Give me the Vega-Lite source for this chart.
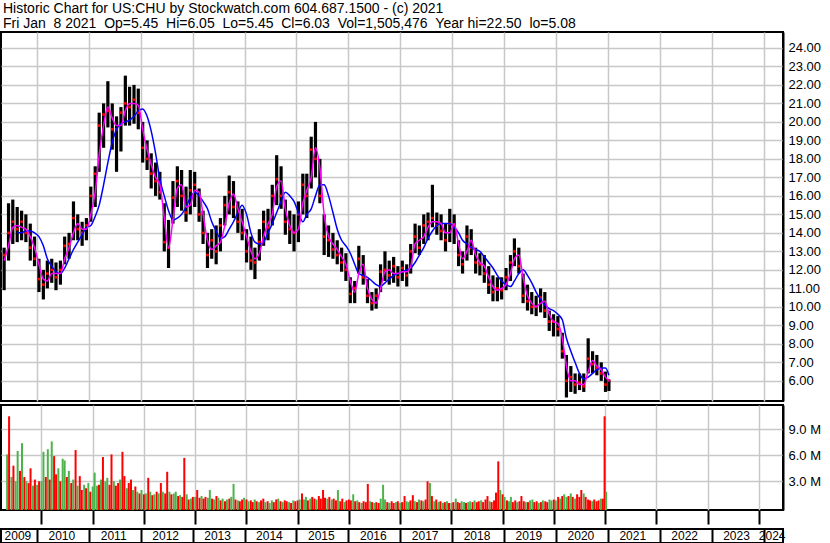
{
"$schema":"https://vega.github.io/schema/vega-lite/v6.json",
"padding":{"top":2,"left":0,"right":0,"bottom":0},
"background":"white",
"spacing":2,
"title":{"text":["Historic Chart for US:CHU by Stockwatch.com 604.687.1500 - (c) 2021","Fri Jan\u00a0\u00a08 2021\u00a0\u00a0Op=5.45\u00a0\u00a0Hi=6.05\u00a0\u00a0Lo=5.45\u00a0\u00a0Cl=6.03\u00a0\u00a0Vol=1,505,476\u00a0\u00a0Year hi=22.50\u00a0\u00a0lo=5.08"],"anchor":"start","frame":"group","font":"Liberation Sans","fontSize":14,"fontWeight":"normal","color":"black","lineHeight":15,"offset":0,"dx":2},
"config":{"font":"Liberation Sans","view":{"stroke":"black","strokeWidth":2},"axis":{"labelFont":"Liberation Sans","labelColor":"black","title":null},"axisY":{"labelOverlap":false,"labelSeparation":0}},
"datasets":{
"px":[
{"d":"2009-05-15","h":13.2,"l":10.9,"c":12.8,"m":12.5},
{"d":"2009-06-15","h":15.6,"l":12.5,"c":14.0,"m":13.3},
{"d":"2009-07-15","h":15.8,"l":13.4,"c":14.6,"m":14.3},
{"d":"2009-08-15","h":15.4,"l":13.5,"c":14.2,"m":14.4,"b":14.0},
{"d":"2009-09-15","h":15.2,"l":13.6,"c":14.6,"m":14.3,"b":14.0},
{"d":"2009-10-15","h":15.0,"l":13.5,"c":14.0,"m":14.2,"b":14.1},
{"d":"2009-11-15","h":14.5,"l":12.5,"c":13.2,"m":13.8,"b":14.1},
{"d":"2009-12-15","h":13.8,"l":12.2,"c":12.6,"m":13.2,"b":14.0},
{"d":"2010-01-15","h":12.6,"l":10.8,"c":11.5,"m":12.3,"b":13.8},
{"d":"2010-02-15","h":12.0,"l":10.4,"c":11.2,"m":11.5,"b":13.3},
{"d":"2010-03-15","h":12.5,"l":11.0,"c":11.8,"m":11.4,"b":12.6},
{"d":"2010-04-15","h":12.6,"l":11.3,"c":12.0,"m":11.8,"b":12.2},
{"d":"2010-05-15","h":12.4,"l":10.9,"c":11.6,"m":11.8,"b":11.9},
{"d":"2010-06-15","h":12.5,"l":11.2,"c":12.0,"m":11.8,"b":11.8},
{"d":"2010-07-15","h":13.8,"l":12.3,"c":13.3,"m":12.6,"b":12.1},
{"d":"2010-08-15","h":14.0,"l":12.6,"c":13.4,"m":13.2,"b":12.6},
{"d":"2010-09-15","h":15.7,"l":13.6,"c":14.8,"m":14.0,"b":13.1},
{"d":"2010-10-15","h":15.0,"l":13.6,"c":14.2,"m":14.5,"b":13.5},
{"d":"2010-11-15","h":14.6,"l":13.3,"c":14.0,"m":14.2,"b":13.9},
{"d":"2010-12-15","h":14.8,"l":13.6,"c":14.4,"m":14.2,"b":14.3},
{"d":"2011-01-15","h":16.5,"l":14.6,"c":16.0,"m":15.0,"b":14.4},
{"d":"2011-02-15","h":17.6,"l":15.4,"c":17.2,"m":16.2,"b":14.9},
{"d":"2011-03-15","h":20.5,"l":17.3,"c":19.8,"m":18.2,"b":15.5},
{"d":"2011-04-15","h":21.0,"l":18.6,"c":20.4,"m":19.8,"b":16.6},
{"d":"2011-05-15","h":22.2,"l":19.7,"c":20.6,"m":20.8,"b":17.8},
{"d":"2011-06-15","h":21.0,"l":18.5,"c":19.6,"m":20.2,"b":18.9},
{"d":"2011-07-15","h":20.3,"l":17.3,"c":19.6,"m":19.8,"b":19.6},
{"d":"2011-08-15","h":20.8,"l":18.4,"c":20.5,"m":19.8,"b":19.9},
{"d":"2011-09-15","h":22.5,"l":19.8,"c":21.0,"m":20.6,"b":20.0},
{"d":"2011-10-15","h":21.9,"l":19.8,"c":20.8,"m":21.0,"b":20.1},
{"d":"2011-11-15","h":22.0,"l":19.9,"c":21.2,"m":21.0,"b":20.3},
{"d":"2011-12-15","h":21.8,"l":19.6,"c":20.5,"m":20.9,"b":20.6},
{"d":"2012-01-15","h":20.0,"l":17.8,"c":18.6,"m":19.6,"b":20.7},
{"d":"2012-02-15","h":19.0,"l":17.4,"c":18.0,"m":18.5,"b":20.3},
{"d":"2012-03-15","h":18.3,"l":16.4,"c":17.2,"m":17.7,"b":19.5},
{"d":"2012-04-15","h":17.8,"l":16.0,"c":16.8,"m":17.0,"b":18.3},
{"d":"2012-05-15","h":17.3,"l":15.8,"c":16.2,"m":16.6,"b":16.9},
{"d":"2012-06-15","h":15.6,"l":13.0,"c":13.5,"m":14.8,"b":16.0},
{"d":"2012-07-15","h":14.7,"l":12.1,"c":13.2,"m":13.2,"b":15.2},
{"d":"2012-08-15","h":16.8,"l":14.5,"c":15.9,"m":14.7,"b":14.7},
{"d":"2012-09-15","h":17.6,"l":15.4,"c":16.8,"m":16.4,"b":14.8},
{"d":"2012-10-15","h":17.4,"l":15.2,"c":16.0,"m":16.6,"b":15.0},
{"d":"2012-11-15","h":16.5,"l":14.6,"c":15.1,"m":15.4,"b":15.4},
{"d":"2012-12-15","h":17.4,"l":15.0,"c":16.3,"m":15.5,"b":15.9},
{"d":"2013-01-15","h":17.3,"l":15.4,"c":16.6,"m":16.3,"b":16.2},
{"d":"2013-02-15","h":16.4,"l":14.6,"c":15.0,"m":16.2,"b":16.0},
{"d":"2013-03-15","h":15.2,"l":13.4,"c":14.0,"m":15.0,"b":15.7},
{"d":"2013-04-15","h":14.0,"l":12.1,"c":12.8,"m":13.6,"b":15.3},
{"d":"2013-05-15","h":14.2,"l":12.6,"c":13.6,"m":13.1,"b":14.6},
{"d":"2013-06-15","h":14.4,"l":12.3,"c":13.0,"m":13.3,"b":14.1},
{"d":"2013-07-15","h":14.8,"l":13.0,"c":14.4,"m":13.5,"b":13.7},
{"d":"2013-08-15","h":16.0,"l":14.4,"c":15.5,"m":14.4,"b":13.8},
{"d":"2013-09-15","h":17.1,"l":15.0,"c":16.2,"m":15.6,"b":14.2},
{"d":"2013-10-15","h":16.8,"l":14.8,"c":15.4,"m":16.1,"b":14.6},
{"d":"2013-11-15","h":15.7,"l":14.0,"c":14.6,"m":15.3,"b":15.1},
{"d":"2013-12-15","h":15.3,"l":13.6,"c":14.0,"m":14.6,"b":15.5},
{"d":"2014-01-15","h":14.2,"l":12.4,"c":13.0,"m":13.8,"b":15.0},
{"d":"2014-02-15","h":13.8,"l":12.0,"c":12.5,"m":13.0,"b":14.0},
{"d":"2014-03-15","h":13.2,"l":11.5,"c":12.4,"m":12.6,"b":13.5},
{"d":"2014-04-15","h":14.2,"l":12.5,"c":13.5,"m":12.9,"b":13.4},
{"d":"2014-05-15","h":15.2,"l":13.3,"c":14.6,"m":13.8,"b":13.5},
{"d":"2014-06-15","h":15.3,"l":13.6,"c":14.3,"m":14.5,"b":14.0},
{"d":"2014-07-15","h":16.6,"l":14.4,"c":16.0,"m":15.0,"b":14.5},
{"d":"2014-08-15","h":18.2,"l":15.5,"c":16.9,"m":16.5,"b":15.1},
{"d":"2014-09-15","h":17.6,"l":15.3,"c":16.0,"m":16.8,"b":15.7},
{"d":"2014-10-15","h":15.8,"l":13.9,"c":14.6,"m":15.3,"b":16.2},
{"d":"2014-11-15","h":15.2,"l":13.4,"c":14.2,"m":14.4,"b":16.0},
{"d":"2014-12-15","h":15.0,"l":13.0,"c":14.0,"m":14.0,"b":15.7},
{"d":"2015-01-15","h":15.7,"l":13.5,"c":15.0,"m":14.2,"b":15.1},
{"d":"2015-02-15","h":17.2,"l":15.0,"c":16.6,"m":15.6,"b":14.6},
{"d":"2015-03-15","h":17.2,"l":14.8,"c":16.0,"m":16.3,"b":15.0},
{"d":"2015-04-15","h":19.2,"l":16.4,"c":18.5,"m":17.0,"b":15.3},
{"d":"2015-05-15","h":20.0,"l":17.0,"c":18.0,"m":18.6,"b":16.0},
{"d":"2015-06-15","h":18.0,"l":15.6,"c":16.0,"m":17.5,"b":16.6},
{"d":"2015-07-15","h":15.0,"l":12.8,"c":13.8,"m":15.0,"b":16.6},
{"d":"2015-08-15","h":14.4,"l":12.7,"c":13.6,"m":13.8,"b":16.0},
{"d":"2015-09-15","h":14.0,"l":12.6,"c":13.1,"m":13.4,"b":15.1},
{"d":"2015-10-15","h":13.6,"l":12.3,"c":12.8,"m":13.1,"b":14.2},
{"d":"2015-11-15","h":13.2,"l":11.9,"c":12.4,"m":12.7,"b":13.6},
{"d":"2015-12-15","h":12.9,"l":11.4,"c":12.0,"m":12.3,"b":13.3},
{"d":"2016-01-15","h":11.6,"l":10.2,"c":10.7,"m":11.4,"b":12.9},
{"d":"2016-02-15","h":11.4,"l":10.2,"c":11.0,"m":10.8,"b":12.3},
{"d":"2016-03-15","h":13.3,"l":11.8,"c":12.6,"m":11.8,"b":11.8},
{"d":"2016-04-15","h":12.8,"l":11.2,"c":11.6,"m":12.3,"b":11.7},
{"d":"2016-05-15","h":11.5,"l":10.2,"c":10.6,"m":11.0,"b":11.6},
{"d":"2016-06-15","h":10.8,"l":9.8,"c":10.2,"m":10.4,"b":11.4},
{"d":"2016-07-15","h":11.0,"l":9.9,"c":10.6,"m":10.2,"b":11.2},
{"d":"2016-08-15","h":12.3,"l":10.8,"c":11.9,"m":11.0,"b":11.1},
{"d":"2016-09-15","h":13.0,"l":11.4,"c":12.0,"m":11.9,"b":11.3},
{"d":"2016-10-15","h":12.5,"l":11.2,"c":11.7,"m":12.0,"b":11.5},
{"d":"2016-11-15","h":12.7,"l":11.3,"c":12.2,"m":11.8,"b":11.7},
{"d":"2016-12-15","h":12.2,"l":11.1,"c":11.6,"m":11.8,"b":11.8},
{"d":"2017-01-15","h":12.5,"l":11.4,"c":12.1,"m":11.9,"b":11.9},
{"d":"2017-02-15","h":12.3,"l":11.1,"c":11.7,"m":11.9,"b":12.0},
{"d":"2017-03-15","h":13.4,"l":11.8,"c":13.0,"m":12.2,"b":12.1},
{"d":"2017-04-15","h":14.5,"l":12.9,"c":13.8,"m":13.4,"b":12.4},
{"d":"2017-05-15","h":14.4,"l":12.8,"c":13.2,"m":13.6,"b":12.8},
{"d":"2017-06-15","h":15.0,"l":13.4,"c":14.4,"m":13.8,"b":13.2},
{"d":"2017-07-15","h":15.1,"l":13.6,"c":14.6,"m":14.3,"b":13.7},
{"d":"2017-08-15","h":16.6,"l":14.3,"c":14.8,"m":14.6,"b":14.1},
{"d":"2017-09-15","h":15.1,"l":13.9,"c":14.4,"m":14.6,"b":14.4},
{"d":"2017-10-15","h":15.0,"l":13.6,"c":14.1,"m":14.5,"b":14.5},
{"d":"2017-11-15","h":14.5,"l":13.0,"c":13.6,"m":14.0,"b":14.5},
{"d":"2017-12-15","h":15.3,"l":13.5,"c":14.5,"m":14.0,"b":14.5},
{"d":"2018-01-15","h":15.0,"l":13.4,"c":14.4,"m":14.5,"b":14.3},
{"d":"2018-02-15","h":13.6,"l":12.2,"c":12.8,"m":13.4,"b":14.0},
{"d":"2018-03-15","h":13.0,"l":11.8,"c":12.3,"m":12.6,"b":13.6},
{"d":"2018-04-15","h":14.4,"l":12.5,"c":13.8,"m":13.0,"b":13.4},
{"d":"2018-05-15","h":14.2,"l":12.8,"c":13.2,"m":13.6,"b":13.2},
{"d":"2018-06-15","h":13.2,"l":11.8,"c":12.4,"m":12.8,"b":13.1},
{"d":"2018-07-15","h":12.9,"l":11.7,"c":12.3,"m":12.4,"b":13.0},
{"d":"2018-08-15","h":12.8,"l":11.3,"c":11.8,"m":12.2,"b":12.7},
{"d":"2018-09-15","h":12.2,"l":10.7,"c":11.2,"m":11.6,"b":12.4},
{"d":"2018-10-15","h":11.7,"l":10.3,"c":10.8,"m":11.1,"b":12.1},
{"d":"2018-11-15","h":11.6,"l":10.3,"c":11.0,"m":10.9,"b":11.7},
{"d":"2018-12-15","h":11.6,"l":10.4,"c":10.9,"m":11.0,"b":11.4},
{"d":"2019-01-15","h":12.1,"l":10.9,"c":11.6,"m":11.2,"b":11.2},
{"d":"2019-02-15","h":12.8,"l":11.4,"c":12.4,"m":11.8,"b":11.1},
{"d":"2019-03-15","h":13.7,"l":12.2,"c":13.0,"m":12.6,"b":11.4},
{"d":"2019-04-15","h":13.2,"l":11.8,"c":12.2,"m":12.8,"b":11.8},
{"d":"2019-05-15","h":11.8,"l":10.2,"c":10.6,"m":11.6,"b":12.0},
{"d":"2019-06-15","h":11.2,"l":9.8,"c":10.3,"m":10.6,"b":11.7},
{"d":"2019-07-15","h":10.8,"l":9.6,"c":10.0,"m":10.2,"b":11.3},
{"d":"2019-08-15","h":10.6,"l":9.5,"c":10.0,"m":10.0,"b":10.8},
{"d":"2019-09-15","h":11.0,"l":9.7,"c":10.5,"m":10.2,"b":10.4},
{"d":"2019-10-15","h":10.8,"l":9.4,"c":9.8,"m":10.3,"b":10.1},
{"d":"2019-11-15","h":9.8,"l":8.7,"c":9.2,"m":9.6,"b":9.9},
{"d":"2019-12-15","h":9.6,"l":8.4,"c":9.2,"m":9.2,"b":9.8},
{"d":"2020-01-15","h":9.5,"l":8.4,"c":8.8,"m":9.1,"b":9.6},
{"d":"2020-02-15","h":8.6,"l":7.2,"c":7.6,"m":8.3,"b":9.3},
{"d":"2020-03-15","h":7.4,"l":5.1,"c":6.0,"m":6.8,"b":8.3},
{"d":"2020-04-15","h":6.8,"l":5.4,"c":6.2,"m":6.0,"b":7.6},
{"d":"2020-05-15","h":6.4,"l":5.3,"c":5.8,"m":6.0,"b":7.0},
{"d":"2020-06-15","h":6.4,"l":5.5,"c":5.9,"m":5.8,"b":6.4},
{"d":"2020-07-15","h":6.4,"l":5.4,"c":5.7,"m":5.8,"b":6.1},
{"d":"2020-08-15","h":8.3,"l":6.4,"c":7.2,"m":6.5,"b":6.2},
{"d":"2020-09-15","h":7.6,"l":6.4,"c":6.9,"m":7.1,"b":6.4},
{"d":"2020-10-15","h":7.4,"l":6.3,"c":6.7,"m":6.8,"b":6.6},
{"d":"2020-11-15","h":7.0,"l":6.0,"c":6.4,"m":6.6,"b":6.7},
{"d":"2020-12-15","h":6.5,"l":5.4,"c":5.8,"m":6.2,"b":6.7},
{"d":"2021-01-08","h":6.05,"l":5.45,"c":6.03,"m":6.0,"b":6.3}
],
"vol":[
{"d":"2009-05-01","v":6.1,"t":"u"},{"d":"2009-05-15","v":10.5,"t":"d"},{"d":"2009-06-01","v":3.5,"t":"u"},{"d":"2009-06-15","v":4.8,"t":"d"},
{"d":"2009-07-01","v":3.0,"t":"u"},{"d":"2009-07-15","v":6.5,"t":"u"},{"d":"2009-08-01","v":4.2,"t":"d"},{"d":"2009-08-15","v":7.4,"t":"u"},
{"d":"2009-09-01","v":3.5,"t":"d"},{"d":"2009-09-15","v":3.0,"t":"u"},{"d":"2009-10-01","v":2.8,"t":"d"},{"d":"2009-10-15","v":4.5,"t":"d"},
{"d":"2009-11-01","v":2.5,"t":"u"},{"d":"2009-11-15","v":3.2,"t":"d"},{"d":"2009-12-01","v":2.6,"t":"u"},{"d":"2009-12-15","v":3.0,"t":"d"},
{"d":"2010-01-01","v":3.0,"t":"u"},{"d":"2010-01-15","v":6.4,"t":"u"},{"d":"2010-02-01","v":3.5,"t":"d"},{"d":"2010-02-15","v":6.7,"t":"u"},
{"d":"2010-03-01","v":3.2,"t":"d"},{"d":"2010-03-15","v":7.6,"t":"u"},{"d":"2010-04-01","v":5.9,"t":"d"},{"d":"2010-04-15","v":3.8,"t":"d"},
{"d":"2010-05-01","v":4.5,"t":"u"},{"d":"2010-05-15","v":3.0,"t":"d"},{"d":"2010-06-01","v":5.6,"t":"u"},{"d":"2010-06-15","v":5.4,"t":"u"},
{"d":"2010-07-01","v":3.5,"t":"d"},{"d":"2010-07-15","v":4.2,"t":"u"},{"d":"2010-08-01","v":2.8,"t":"d"},{"d":"2010-08-15","v":3.2,"t":"u"},
{"d":"2010-09-01","v":6.6,"t":"d"},{"d":"2010-09-15","v":2.5,"t":"u"},{"d":"2010-10-01","v":3.6,"t":"d"},{"d":"2010-10-15","v":2.0,"t":"d"},
{"d":"2010-11-01","v":2.6,"t":"u"},{"d":"2010-11-15","v":2.2,"t":"d"},{"d":"2010-12-01","v":2.8,"t":"u"},{"d":"2010-12-15","v":1.8,"t":"d"},
{"d":"2011-01-01","v":2.4,"t":"u"},{"d":"2011-01-15","v":4.0,"t":"u"},{"d":"2011-02-01","v":2.5,"t":"u"},{"d":"2011-02-15","v":2.6,"t":"d"},
{"d":"2011-03-01","v":3.2,"t":"u"},{"d":"2011-03-15","v":5.8,"t":"d"},{"d":"2011-04-01","v":3.0,"t":"u"},{"d":"2011-04-15","v":3.4,"t":"u"},
{"d":"2011-05-01","v":2.6,"t":"d"},{"d":"2011-05-15","v":6.1,"t":"d"},{"d":"2011-06-01","v":3.0,"t":"u"},{"d":"2011-06-15","v":2.5,"t":"d"},
{"d":"2011-07-01","v":2.8,"t":"d"},{"d":"2011-07-15","v":3.2,"t":"u"},{"d":"2011-08-01","v":6.4,"t":"d"},{"d":"2011-08-15","v":3.6,"t":"d"},
{"d":"2011-09-01","v":2.2,"t":"u"},{"d":"2011-09-15","v":2.8,"t":"d"},{"d":"2011-10-01","v":3.2,"t":"d"},{"d":"2011-10-15","v":2.0,"t":"u"},
{"d":"2011-11-01","v":2.4,"t":"d"},{"d":"2011-11-15","v":1.8,"t":"u"},{"d":"2011-12-01","v":1.6,"t":"d"},{"d":"2011-12-15","v":2.0,"t":"u"},
{"d":"2012-01-01","v":1.5,"t":"d"},{"d":"2012-01-15","v":1.6,"t":"u"},{"d":"2012-02-01","v":3.4,"t":"d"},{"d":"2012-02-15","v":1.8,"t":"u"},
{"d":"2012-03-01","v":1.4,"t":"d"},{"d":"2012-03-15","v":1.5,"t":"u"},{"d":"2012-04-01","v":1.8,"t":"d"},{"d":"2012-04-15","v":1.6,"t":"u"},
{"d":"2012-05-01","v":2.8,"t":"d"},{"d":"2012-05-15","v":1.8,"t":"u"},{"d":"2012-06-01","v":1.6,"t":"d"},{"d":"2012-06-15","v":4.1,"t":"d"},
{"d":"2012-07-01","v":1.8,"t":"u"},{"d":"2012-07-15","v":1.5,"t":"d"},{"d":"2012-08-01","v":1.6,"t":"u"},{"d":"2012-08-15","v":1.8,"t":"u"},
{"d":"2012-09-01","v":1.3,"t":"d"},{"d":"2012-09-15","v":1.4,"t":"u"},{"d":"2012-10-01","v":1.2,"t":"d"},{"d":"2012-10-15","v":5.7,"t":"d"},
{"d":"2012-11-01","v":1.5,"t":"u"},{"d":"2012-11-15","v":0.9,"t":"d"},{"d":"2012-12-01","v":1.0,"t":"u"},{"d":"2012-12-15","v":1.2,"t":"d"},
{"d":"2013-01-01","v":1.2,"t":"u"},{"d":"2013-01-15","v":2.0,"t":"d"},{"d":"2013-02-01","v":1.1,"t":"d"},{"d":"2013-02-15","v":1.3,"t":"u"},
{"d":"2013-03-01","v":1.0,"t":"d"},{"d":"2013-03-15","v":1.2,"t":"d"},{"d":"2013-04-01","v":1.1,"t":"u"},{"d":"2013-04-15","v":2.0,"t":"u"},
{"d":"2013-05-01","v":1.0,"t":"d"},{"d":"2013-05-15","v":0.9,"t":"u"},{"d":"2013-06-01","v":1.3,"t":"d"},{"d":"2013-06-15","v":1.1,"t":"u"},
{"d":"2013-07-01","v":0.8,"t":"d"},{"d":"2013-07-15","v":1.0,"t":"u"},{"d":"2013-08-01","v":0.7,"t":"d"},{"d":"2013-08-15","v":0.9,"t":"u"},
{"d":"2013-09-01","v":1.0,"t":"d"},{"d":"2013-09-15","v":1.2,"t":"u"},{"d":"2013-10-01","v":2.7,"t":"u"},{"d":"2013-10-15","v":0.9,"t":"d"},
{"d":"2013-11-01","v":0.8,"t":"u"},{"d":"2013-11-15","v":0.7,"t":"d"},{"d":"2013-12-01","v":0.9,"t":"d"},{"d":"2013-12-15","v":1.1,"t":"u"},
{"d":"2014-01-01","v":0.9,"t":"d"},{"d":"2014-01-15","v":0.7,"t":"u"},{"d":"2014-02-01","v":0.8,"t":"d"},{"d":"2014-02-15","v":0.6,"t":"d"},
{"d":"2014-03-01","v":0.9,"t":"u"},{"d":"2014-03-15","v":0.7,"t":"d"},{"d":"2014-04-01","v":0.6,"t":"u"},{"d":"2014-04-15","v":0.8,"t":"d"},
{"d":"2014-05-01","v":1.0,"t":"d"},{"d":"2014-05-15","v":0.6,"t":"u"},{"d":"2014-06-01","v":0.7,"t":"d"},{"d":"2014-06-15","v":0.5,"t":"u"},
{"d":"2014-07-01","v":0.8,"t":"u"},{"d":"2014-07-15","v":0.6,"t":"d"},{"d":"2014-08-01","v":0.9,"t":"d"},{"d":"2014-08-15","v":1.0,"t":"u"},
{"d":"2014-09-01","v":0.7,"t":"d"},{"d":"2014-09-15","v":0.6,"t":"u"},{"d":"2014-10-01","v":0.8,"t":"d"},{"d":"2014-10-15","v":0.7,"t":"d"},
{"d":"2014-11-01","v":0.6,"t":"u"},{"d":"2014-11-15","v":0.5,"t":"d"},{"d":"2014-12-01","v":0.8,"t":"u"},{"d":"2014-12-15","v":0.7,"t":"d"},
{"d":"2015-01-01","v":0.8,"t":"d"},{"d":"2015-01-15","v":0.9,"t":"u"},{"d":"2015-02-01","v":1.6,"t":"d"},{"d":"2015-02-15","v":0.9,"t":"u"},
{"d":"2015-03-01","v":1.2,"t":"u"},{"d":"2015-03-15","v":0.8,"t":"d"},{"d":"2015-04-01","v":1.0,"t":"u"},{"d":"2015-04-15","v":1.2,"t":"d"},
{"d":"2015-05-01","v":1.0,"t":"d"},{"d":"2015-05-15","v":0.9,"t":"u"},{"d":"2015-06-01","v":1.3,"t":"d"},{"d":"2015-06-15","v":1.0,"t":"d"},
{"d":"2015-07-01","v":2.0,"t":"d"},{"d":"2015-07-15","v":1.1,"t":"d"},{"d":"2015-08-01","v":1.0,"t":"u"},{"d":"2015-08-15","v":1.2,"t":"d"},
{"d":"2015-09-01","v":0.9,"t":"u"},{"d":"2015-09-15","v":1.0,"t":"d"},{"d":"2015-10-01","v":0.8,"t":"d"},{"d":"2015-10-15","v":2.0,"t":"u"},
{"d":"2015-11-01","v":0.7,"t":"d"},{"d":"2015-11-15","v":1.0,"t":"d"},{"d":"2015-12-01","v":0.6,"t":"u"},{"d":"2015-12-15","v":0.8,"t":"d"},
{"d":"2016-01-01","v":0.9,"t":"d"},{"d":"2016-01-15","v":0.8,"t":"d"},{"d":"2016-02-01","v":1.5,"t":"u"},{"d":"2016-02-15","v":0.7,"t":"d"},
{"d":"2016-03-01","v":0.8,"t":"u"},{"d":"2016-03-15","v":0.6,"t":"d"},{"d":"2016-04-01","v":0.5,"t":"u"},{"d":"2016-04-15","v":0.7,"t":"d"},
{"d":"2016-05-01","v":0.6,"t":"d"},{"d":"2016-05-15","v":2.7,"t":"d"},{"d":"2016-06-01","v":0.7,"t":"u"},{"d":"2016-06-15","v":0.6,"t":"d"},
{"d":"2016-07-01","v":0.5,"t":"u"},{"d":"2016-07-15","v":0.6,"t":"d"},{"d":"2016-08-01","v":0.5,"t":"d"},{"d":"2016-08-15","v":1.0,"t":"u"},
{"d":"2016-09-01","v":2.6,"t":"u"},{"d":"2016-09-15","v":0.9,"t":"u"},{"d":"2016-10-01","v":0.6,"t":"d"},{"d":"2016-10-15","v":0.5,"t":"u"},
{"d":"2016-11-01","v":0.7,"t":"d"},{"d":"2016-11-15","v":0.5,"t":"d"},{"d":"2016-12-01","v":0.6,"t":"u"},{"d":"2016-12-15","v":0.7,"t":"d"},
{"d":"2017-01-01","v":0.5,"t":"u"},{"d":"2017-01-15","v":0.6,"t":"d"},{"d":"2017-02-01","v":1.3,"t":"d"},{"d":"2017-02-15","v":0.7,"t":"u"},
{"d":"2017-03-01","v":0.6,"t":"u"},{"d":"2017-03-15","v":0.8,"t":"d"},{"d":"2017-04-01","v":1.4,"t":"d"},{"d":"2017-04-15","v":0.7,"t":"u"},
{"d":"2017-05-01","v":0.6,"t":"d"},{"d":"2017-05-15","v":0.9,"t":"u"},{"d":"2017-06-01","v":0.8,"t":"d"},{"d":"2017-06-15","v":0.7,"t":"u"},
{"d":"2017-07-01","v":0.9,"t":"d"},{"d":"2017-07-15","v":3.0,"t":"d"},{"d":"2017-08-01","v":2.8,"t":"u"},{"d":"2017-08-15","v":1.3,"t":"d"},
{"d":"2017-09-01","v":0.7,"t":"u"},{"d":"2017-09-15","v":0.9,"t":"d"},{"d":"2017-10-01","v":0.6,"t":"u"},{"d":"2017-10-15","v":0.7,"t":"d"},
{"d":"2017-11-01","v":0.5,"t":"u"},{"d":"2017-11-15","v":0.6,"t":"d"},{"d":"2017-12-01","v":0.7,"t":"u"},{"d":"2017-12-15","v":0.5,"t":"d"},
{"d":"2018-01-01","v":0.5,"t":"u"},{"d":"2018-01-15","v":0.6,"t":"d"},{"d":"2018-02-01","v":1.0,"t":"u"},{"d":"2018-02-15","v":0.6,"t":"d"},
{"d":"2018-03-01","v":0.5,"t":"d"},{"d":"2018-03-15","v":0.7,"t":"u"},{"d":"2018-04-01","v":0.6,"t":"u"},{"d":"2018-04-15","v":0.5,"t":"d"},
{"d":"2018-05-01","v":0.6,"t":"u"},{"d":"2018-05-15","v":0.7,"t":"u"},{"d":"2018-06-01","v":0.6,"t":"d"},{"d":"2018-06-15","v":0.8,"t":"u"},
{"d":"2018-07-01","v":0.6,"t":"d"},{"d":"2018-07-15","v":0.7,"t":"d"},{"d":"2018-08-01","v":0.8,"t":"u"},{"d":"2018-08-15","v":0.6,"t":"d"},
{"d":"2018-09-01","v":0.9,"t":"d"},{"d":"2018-09-15","v":1.3,"t":"d"},{"d":"2018-10-01","v":0.7,"t":"u"},{"d":"2018-10-15","v":0.6,"t":"d"},
{"d":"2018-11-01","v":0.8,"t":"d"},{"d":"2018-11-15","v":1.7,"t":"d"},{"d":"2018-12-01","v":5.3,"t":"d"},{"d":"2018-12-15","v":2.0,"t":"u"},
{"d":"2019-01-01","v":1.5,"t":"d"},{"d":"2019-01-15","v":1.2,"t":"u"},{"d":"2019-02-01","v":0.8,"t":"d"},{"d":"2019-02-15","v":0.7,"t":"u"},
{"d":"2019-03-01","v":1.2,"t":"u"},{"d":"2019-03-15","v":0.6,"t":"d"},{"d":"2019-04-01","v":0.8,"t":"d"},{"d":"2019-04-15","v":0.6,"t":"u"},
{"d":"2019-05-01","v":0.7,"t":"d"},{"d":"2019-05-15","v":1.3,"t":"d"},{"d":"2019-06-01","v":0.7,"t":"d"},{"d":"2019-06-15","v":0.6,"t":"u"},
{"d":"2019-07-01","v":0.6,"t":"d"},{"d":"2019-07-15","v":0.8,"t":"u"},{"d":"2019-08-01","v":0.9,"t":"u"},{"d":"2019-08-15","v":0.6,"t":"d"},
{"d":"2019-09-01","v":0.7,"t":"d"},{"d":"2019-09-15","v":0.5,"t":"u"},{"d":"2019-10-01","v":0.6,"t":"d"},{"d":"2019-10-15","v":0.8,"t":"u"},
{"d":"2019-11-01","v":0.7,"t":"d"},{"d":"2019-11-15","v":0.6,"t":"d"},{"d":"2019-12-01","v":0.9,"t":"u"},{"d":"2019-12-15","v":0.8,"t":"u"},
{"d":"2020-01-01","v":0.9,"t":"d"},{"d":"2020-01-15","v":0.8,"t":"u"},{"d":"2020-02-01","v":1.2,"t":"d"},{"d":"2020-02-15","v":1.0,"t":"u"},
{"d":"2020-03-01","v":1.3,"t":"d"},{"d":"2020-03-15","v":1.5,"t":"u"},{"d":"2020-04-01","v":1.2,"t":"u"},{"d":"2020-04-15","v":1.3,"t":"d"},
{"d":"2020-05-01","v":1.6,"t":"u"},{"d":"2020-05-15","v":1.2,"t":"d"},{"d":"2020-06-01","v":1.0,"t":"u"},{"d":"2020-06-15","v":1.5,"t":"d"},
{"d":"2020-07-01","v":1.2,"t":"d"},{"d":"2020-07-15","v":2.0,"t":"d"},{"d":"2020-08-01","v":1.6,"t":"u"},{"d":"2020-08-15","v":1.2,"t":"d"},
{"d":"2020-09-01","v":0.9,"t":"d"},{"d":"2020-09-15","v":0.8,"t":"d"},{"d":"2020-10-01","v":0.7,"t":"u"},{"d":"2020-10-15","v":0.9,"t":"d"},
{"d":"2020-11-01","v":0.7,"t":"d"},{"d":"2020-11-15","v":0.8,"t":"d"},{"d":"2020-12-01","v":1.0,"t":"u"},{"d":"2020-12-15","v":1.0,"t":"d"},
{"d":"2020-12-28","v":10.5,"t":"d"},{"d":"2021-01-08","v":1.8,"t":"u"}
],
"yrs":[
{"yr":"2009","mid":"2009-08-27"},{"yr":"2010","mid":"2010-07-02"},{"yr":"2011","mid":"2011-07-02"},{"yr":"2012","mid":"2012-07-02"},
{"yr":"2013","mid":"2013-07-02"},{"yr":"2014","mid":"2014-07-02"},{"yr":"2015","mid":"2015-07-02"},{"yr":"2016","mid":"2016-07-02"},
{"yr":"2017","mid":"2017-07-02"},{"yr":"2018","mid":"2018-07-02"},{"yr":"2019","mid":"2019-07-02"},{"yr":"2020","mid":"2020-07-02"},
{"yr":"2021","mid":"2021-07-02"},{"yr":"2022","mid":"2022-07-02"},{"yr":"2023","mid":"2023-07-02"},{"yr":"2024","mid":"2024-03-09"}
]
},
"vconcat":[
{
"width":782,"height":369,
"data":{"name":"px"},
"encoding":{"x":{"field":"d","type":"temporal","scale":{"domain":[{"year":2009,"month":4,"date":23,"utc":true},{"year":2024,"month":5,"date":17,"utc":true}]},
"axis":{"values":[{"year":2010,"utc":true},{"year":2011,"utc":true},{"year":2012,"utc":true},{"year":2013,"utc":true},{"year":2014,"utc":true},{"year":2015,"utc":true},{"year":2016,"utc":true},{"year":2017,"utc":true},{"year":2018,"utc":true},{"year":2019,"utc":true},{"year":2020,"utc":true},{"year":2021,"utc":true},{"year":2022,"utc":true},{"year":2023,"utc":true},{"year":2024,"utc":true}],
"grid":true,"gridColor":"#c8c8c8","gridWidth":1.5,"labels":false,"ticks":false,"domain":false,"title":null}}},
"layer":[
{"mark":{"type":"rule","color":"black","strokeWidth":3.2},
"encoding":{"y":{"field":"l","type":"quantitative","scale":{"domain":[4.91,24.86],"nice":false,"zero":false},
"axis":{"orient":"right","values":[6,7,8,9,10,11,12,13,14,15,16,17,18,19,20,21,22,23,24],"tickCount":20,"labelExpr":"datum.value < 5.5 ? '' : format(datum.value, '.2f')","labelOverlap":false,"labelSeparation":0,"labelBound":false,"title":null,"grid":true,"gridColor":"#c8c8c8","gridWidth":1.5,"ticks":false,"labelPadding":5,"domainColor":"black","domainWidth":2,"labelFontSize":13,"labelColor":"black","labelFont":"Liberation Sans"}},
"y2":{"field":"h"}}},
{"mark":{"type":"square","color":"#ff0000","size":7,"opacity":1},"encoding":{"y":{"field":"c","type":"quantitative"}}},
{"mark":{"type":"line","color":"#0000ff","strokeWidth":1.5,"interpolate":"monotone"},"encoding":{"y":{"field":"b","type":"quantitative"}}},
{"mark":{"type":"line","color":"#ff00ff","strokeWidth":1.5,"interpolate":"monotone"},"encoding":{"y":{"field":"m","type":"quantitative"}}},
{"data":{"values":[{"t":"US:CHU"}]},"mark":{"type":"text","align":"left","baseline":"alphabetic","fontSize":13,"font":"Liberation Sans","color":"black"},
"encoding":{"x":{"datum":{"year":2009,"month":6,"date":19,"utc":true},"type":"temporal"},"y":{"datum":24.05,"type":"quantitative"},"text":{"field":"t"}}}
]
},
{
"width":782,"height":105,
"data":{"name":"vol"},
"encoding":{"x":{"field":"d","type":"temporal","scale":{"domain":[{"year":2009,"month":4,"date":23,"utc":true},{"year":2024,"month":5,"date":17,"utc":true}]},
"axis":{"values":[{"year":2010,"utc":true},{"year":2011,"utc":true},{"year":2012,"utc":true},{"year":2013,"utc":true},{"year":2014,"utc":true},{"year":2015,"utc":true},{"year":2016,"utc":true},{"year":2017,"utc":true},{"year":2018,"utc":true},{"year":2019,"utc":true},{"year":2020,"utc":true},{"year":2021,"utc":true},{"year":2022,"utc":true},{"year":2023,"utc":true},{"year":2024,"utc":true}],
"grid":true,"gridColor":"#c8c8c8","gridWidth":1.5,"labels":false,"ticks":true,"tickColor":"black","tickWidth":2,"tickSize":14,"domain":false,"title":null}}},
"layer":[
{"mark":{"type":"bar","size":2},
"encoding":{"y":{"field":"v","type":"quantitative","scale":{"domain":[-0.31,11.8],"nice":false,"zero":false},
"axis":{"orient":"right","values":[3,6,9],"labelExpr":"format(datum.value,'.1f') + ' M'","labelOverlap":false,"title":null,"grid":true,"gridColor":"#c8c8c8","gridWidth":1.5,"ticks":false,"labelPadding":5,"domainColor":"black","domainWidth":2,"labelFontSize":13,"labelColor":"black","labelFont":"Liberation Sans"}},
"y2":{"datum":-0.31},
"color":{"field":"t","type":"nominal","scale":{"domain":["d","u"],"range":["#ff0000","#4cb34c"]},"legend":null}}},
{"data":{"values":[{"t":"Volume"}]},"mark":{"type":"text","align":"left","baseline":"alphabetic","fontSize":13,"font":"Liberation Sans","color":"black"},
"encoding":{"x":{"datum":{"year":2009,"month":6,"date":21,"utc":true},"type":"temporal"},"y":{"datum":10.3,"type":"quantitative"},"text":{"field":"t"}}}
]
},
{
"width":782,"height":14,
"data":{"name":"yrs"},
"mark":{"type":"text","fontSize":12,"font":"Liberation Sans","color":"black","baseline":"middle","align":"center","dx":-1},
"encoding":{"x":{"field":"mid","type":"temporal","scale":{"domain":[{"year":2009,"month":4,"date":23,"utc":true},{"year":2024,"month":5,"date":17,"utc":true}]},
"axis":{"values":[{"year":2010,"utc":true},{"year":2011,"utc":true},{"year":2012,"utc":true},{"year":2013,"utc":true},{"year":2014,"utc":true},{"year":2015,"utc":true},{"year":2016,"utc":true},{"year":2017,"utc":true},{"year":2018,"utc":true},{"year":2019,"utc":true},{"year":2020,"utc":true},{"year":2021,"utc":true},{"year":2022,"utc":true},{"year":2023,"utc":true},{"year":2024,"utc":true}],
"grid":true,"gridColor":"black","gridWidth":2,"labels":false,"ticks":false,"domain":false,"title":null}},
"text":{"field":"yr"}}
}
]
}
